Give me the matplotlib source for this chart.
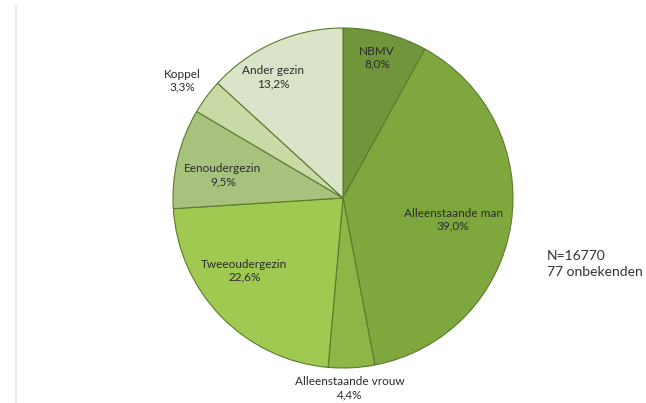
import matplotlib
matplotlib.use('Agg')
import matplotlib.pyplot as plt
import numpy as np

plt.rcParams['font.family'] = ['Lato', 'DejaVu Sans']

labels = ['NBMV', 'Alleenstaande man', 'Alleenstaande vrouw', 'Tweeoudergezin',
          'Eenoudergezin', 'Koppel', 'Ander gezin']
shares = [8.0, 39.0, 4.4, 22.6, 9.5, 3.3, 13.2]
colors = ['#6f963a', '#7ea83e', '#8cb646', '#a0c952', '#a8c27e', '#c8dba6', '#d9e4c8']
# label placement: fraction of radius and angle tweak (deg) per slice
label_r = [0.85, 0.66, 1.12, 0.72, 0.72, 1.17, 0.82]
label_dt = [0.8, -2.3, -0.9, -7.9, 2.7, 0.3, 6.2]

fig = plt.figure(figsize=(6.46, 4.03), dpi=100)
W, H = 646, 403
cx, cy, r = 343, 198, 170
ax = fig.add_axes([(cx - r) / W, (H - cy - r) / H, 2 * r / W, 2 * r / H])

wedges, _ = ax.pie(shares, colors=colors, startangle=90, counterclock=False,
                   radius=1.0,
                   wedgeprops=dict(edgecolor='#5b7a2c', linewidth=0.8))
ax.set_xlim(-1, 1)
ax.set_ylim(-1, 1)
ax.set_aspect('equal')
ax.axis('off')

start = 90.0
for lab, val, lr, dt in zip(labels, shares, label_r, label_dt):
    mid = start - val * 3.6 / 2 + dt
    start -= val * 3.6
    x = lr * np.cos(np.radians(mid))
    y = lr * np.sin(np.radians(mid))
    ax.text(x, y, f'{lab}\n{val:.1f}%'.replace('.', ','), ha='center', va='center',
            fontsize=8.5, color='#2b2b2b', linespacing=1.2, clip_on=False)

fig.text(547 / W, 1 - 264 / H, 'N=16770\n77 onbekenden', ha='left', va='center',
         fontsize=10, color='#333333', linespacing=1.3)

# faint vertical rule on the left
fig.add_artist(plt.Line2D([16 / W, 16 / W], [0, 1 - 6 / H], color='#e4e4e4', linewidth=1.2))

fig.savefig('out.png', dpi=100)
